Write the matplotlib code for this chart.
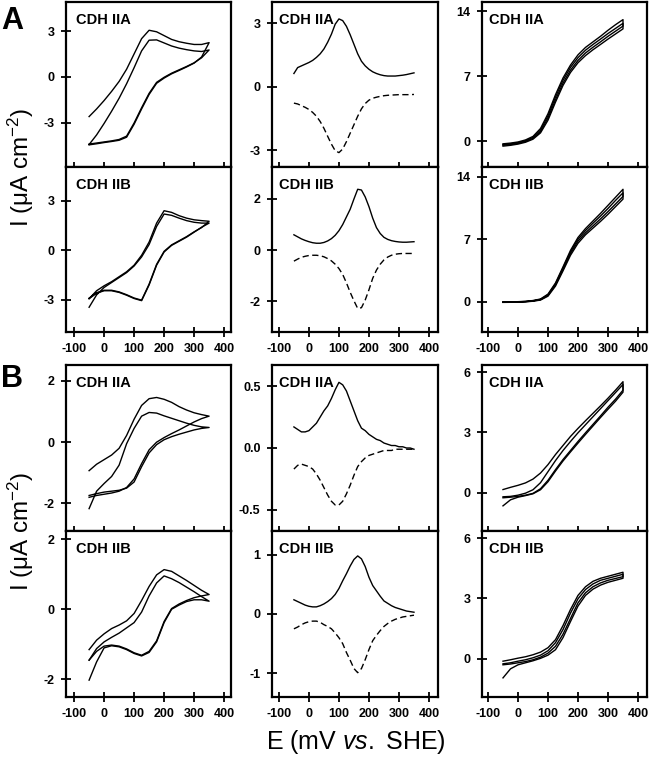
import matplotlib
matplotlib.use("Agg")
import matplotlib.pyplot as plt
from matplotlib.ticker import FormatStrFormatter

plt.rcParams['font.family'] = ['Liberation Sans', 'DejaVu Sans']
plt.rcParams['axes.unicode_minus'] = False
plt.rcParams['mathtext.fontset'] = 'custom'
plt.rcParams['mathtext.rm'] = 'Liberation Sans'
plt.rcParams['mathtext.it'] = 'Liberation Sans:italic'
plt.rcParams['mathtext.bf'] = 'Liberation Sans:bold'

# ---------------- data ----------------
E_CV = [-50, -25, 0, 25, 50, 75, 100, 125, 150, 175, 200, 225, 250, 275, 300, 325, 350]
E_DPV = [-50, -37.5, -25, -12.5, 0, 12.5, 25, 37.5, 50, 62.5, 75, 87.5, 100, 112.5,
         125, 137.5, 150, 162.5, 175, 187.5, 200, 212.5, 225, 237.5, 250, 262.5,
         275, 287.5, 300, 312.5, 325, 337.5, 350]
X_TICKS = [-100, 0, 100, 200, 300, 400]

# Panel A, CDH IIA, CV (anodic / cathodic branches, both in ascending E)
A_IIA_cv_an1 = [-2.6, -2.1, -1.55, -0.95, -0.3, 0.5, 1.5, 2.5, 3.05, 2.95, 2.7, 2.45, 2.3, 2.2, 2.12, 2.12, 2.24]
A_IIA_cv_ca1 = [-4.45, -4.38, -4.3, -4.23, -4.15, -3.95, -3.1, -2.1, -1.15, -0.42, -0.08, 0.2, 0.42, 0.65, 0.9, 1.3, 2.24]
A_IIA_cv_an2 = [-4.43, -3.8, -3.05, -2.25, -1.4, -0.45, 0.6, 1.7, 2.4, 2.42, 2.22, 2.02, 1.88, 1.78, 1.7, 1.66, 1.76]
A_IIA_cv_ca2 = [-4.4, -4.33, -4.26, -4.19, -4.1, -3.88, -3.02, -2.02, -1.08, -0.36, -0.03, 0.24, 0.46, 0.68, 0.92, 1.25, 1.76]

# Panel A, CDH IIB, CV
A_IIB_cv_an1 = [-3.45, -2.7, -2.25, -1.95, -1.65, -1.35, -0.95, -0.4, 0.35, 1.45, 2.2, 2.12, 1.95, 1.8, 1.7, 1.65, 1.65]
A_IIB_cv_ca1 = [-2.93, -2.6, -2.45, -2.45, -2.55, -2.72, -2.92, -3.05, -2.1, -0.9, -0.1, 0.3, 0.55, 0.8, 1.1, 1.4, 1.65]
A_IIB_cv_an2 = [-2.93, -2.45, -2.15, -1.9, -1.6, -1.3, -0.9, -0.3, 0.5, 1.65, 2.4, 2.3, 2.1, 1.95, 1.85, 1.8, 1.76]
A_IIB_cv_ca2 = [-2.9, -2.57, -2.42, -2.42, -2.52, -2.69, -2.89, -3.02, -2.05, -0.85, -0.06, 0.33, 0.58, 0.83, 1.12, 1.38, 1.76]

# Panel B, CDH IIA, CV
B_IIA_cv_an1 = [-0.93, -0.72, -0.57, -0.42, -0.2, 0.22, 0.75, 1.2, 1.42, 1.46, 1.4, 1.3, 1.16, 1.05, 0.96, 0.9, 0.85]
B_IIA_cv_ca1 = [-1.8, -1.74, -1.7, -1.66, -1.6, -1.48, -1.2, -0.7, -0.25, 0.0, 0.15, 0.28, 0.4, 0.53, 0.66, 0.77, 0.85]
B_IIA_cv_an2 = [-2.17, -1.6, -1.35, -1.12, -0.75, -0.05, 0.45, 0.85, 0.97, 0.95, 0.86, 0.78, 0.7, 0.62, 0.55, 0.5, 0.48]
B_IIA_cv_ca2 = [-1.74, -1.68, -1.63, -1.6, -1.57, -1.5, -1.3, -0.8, -0.35, -0.08, 0.08, 0.18, 0.26, 0.33, 0.4, 0.45, 0.48]

# Panel B, CDH IIB, CV
B_IIB_cv_an1 = [-1.15, -0.88, -0.7, -0.55, -0.45, -0.33, -0.12, 0.25, 0.65, 0.98, 1.13, 1.08, 0.95, 0.82, 0.68, 0.54, 0.42]
B_IIB_cv_ca1 = [-1.45, -1.2, -1.05, -1.02, -1.05, -1.13, -1.24, -1.31, -1.2, -0.9, -0.35, 0.02, 0.15, 0.25, 0.33, 0.38, 0.42]
B_IIB_cv_an2 = [-1.45, -1.12, -0.93, -0.8, -0.68, -0.53, -0.38, -0.08, 0.38, 0.75, 0.95, 0.87, 0.76, 0.63, 0.5, 0.36, 0.23]
B_IIB_cv_ca2 = [-2.02, -1.5, -1.1, -1.04, -1.07, -1.15, -1.26, -1.33, -1.23, -0.93, -0.38, 0.0, 0.12, 0.22, 0.27, 0.27, 0.23]

# Differential pulse voltammetry: oxidative (solid) / reductive (dashed)
A_IIA_dpv_ox = [0.62, 0.9, 0.98, 1.06, 1.14, 1.24, 1.38, 1.55, 1.78, 2.1, 2.48, 2.95, 3.2, 3.12, 2.85, 2.45,
                2.0, 1.55, 1.2, 0.98, 0.82, 0.7, 0.62, 0.56, 0.52, 0.5, 0.5, 0.5, 0.52, 0.54, 0.57, 0.61, 0.65]
A_IIA_dpv_red = [-0.78, -0.82, -0.9, -0.98, -1.08, -1.22, -1.4, -1.65, -1.97, -2.35, -2.72, -3.03, -3.12, -2.95, -2.6, -2.2,
                 -1.8, -1.4, -1.05, -0.8, -0.64, -0.55, -0.5, -0.46, -0.43, -0.41, -0.4, -0.39, -0.38, -0.38, -0.38, -0.38, -0.37]
A_IIB_dpv_ox = [0.6, 0.52, 0.44, 0.38, 0.33, 0.29, 0.27, 0.27, 0.3, 0.36, 0.45, 0.58, 0.76, 1.0, 1.3, 1.6,
                2.0, 2.38, 2.35, 2.08, 1.7, 1.25, 0.88, 0.65, 0.5, 0.42, 0.37, 0.34, 0.32, 0.31, 0.31, 0.32, 0.33]
A_IIB_dpv_red = [-0.43, -0.35, -0.28, -0.24, -0.21, -0.2, -0.2, -0.22, -0.26, -0.33, -0.42, -0.55, -0.72, -0.95, -1.28, -1.65,
                 -1.98, -2.28, -2.25, -1.95, -1.55, -1.1, -0.78, -0.55, -0.38, -0.27, -0.2, -0.16, -0.14, -0.13, -0.13, -0.13, -0.13]
B_IIA_dpv_ox = [0.17, 0.15, 0.13, 0.13, 0.14, 0.17, 0.2, 0.25, 0.3, 0.34, 0.4, 0.47, 0.53, 0.51, 0.46, 0.38,
                0.3, 0.22, 0.16, 0.14, 0.11, 0.09, 0.07, 0.06, 0.04, 0.03, 0.02, 0.02, 0.01, 0.01, 0.0, 0.0, -0.01]
B_IIA_dpv_red = [-0.17, -0.14, -0.13, -0.14, -0.15, -0.17, -0.21, -0.26, -0.32, -0.38, -0.43, -0.46, -0.46, -0.43, -0.37, -0.3,
                 -0.22, -0.15, -0.11, -0.08, -0.06, -0.05, -0.04, -0.03, -0.02, -0.02, -0.02, -0.01, -0.01, -0.01, -0.01, -0.01, -0.01]
B_IIB_dpv_ox = [0.24, 0.21, 0.18, 0.15, 0.13, 0.12, 0.12, 0.14, 0.17, 0.21, 0.26, 0.33, 0.43, 0.56, 0.68, 0.81,
                0.92, 0.98, 0.93, 0.8, 0.62, 0.48, 0.39, 0.3, 0.22, 0.18, 0.14, 0.11, 0.09, 0.07, 0.05, 0.04, 0.03]
B_IIB_dpv_red = [-0.25, -0.22, -0.18, -0.15, -0.13, -0.12, -0.12, -0.14, -0.18, -0.21, -0.25, -0.32, -0.4, -0.5, -0.65, -0.78,
                 -0.92, -0.99, -0.92, -0.77, -0.6, -0.45, -0.36, -0.28, -0.21, -0.16, -0.12, -0.09, -0.07, -0.05, -0.04, -0.03, -0.02]

# Catalytic CVs (substrate present)
A_IIA_cat_an1 = [-0.3, -0.22, -0.1, 0.12, 0.5, 1.35, 2.95, 5.0, 6.8, 8.2, 9.3, 10.1, 10.7, 11.3, 11.95, 12.55, 13.1]
A_IIA_cat_ca1 = [-0.45, -0.38, -0.25, -0.05, 0.3, 1.02, 2.48, 4.45, 6.25, 7.65, 8.7, 9.5, 10.12, 10.7, 11.3, 11.85, 12.4]
A_IIA_cat_an2 = [-0.38, -0.3, -0.18, 0.03, 0.4, 1.18, 2.72, 4.75, 6.55, 7.95, 9.0, 9.8, 10.42, 11.0, 11.6, 12.15, 12.7]
A_IIA_cat_ca2 = [-0.55, -0.46, -0.33, -0.13, 0.2, 0.88, 2.25, 4.2, 6.0, 7.4, 8.45, 9.22, 9.85, 10.42, 11.0, 11.55, 12.1]

A_IIB_cat_an1 = [-0.03, -0.02, 0.0, 0.04, 0.13, 0.3, 0.85, 2.1, 3.9, 5.75, 7.2, 8.2, 9.05, 9.9, 10.8, 11.7, 12.6]
A_IIB_cat_ca1 = [-0.06, -0.05, -0.03, 0.0, 0.08, 0.22, 0.7, 1.88, 3.62, 5.4, 6.78, 7.72, 8.5, 9.28, 10.1, 10.95, 11.8]
A_IIB_cat_an2 = [-0.05, -0.04, -0.02, 0.02, 0.1, 0.26, 0.78, 2.0, 3.78, 5.58, 7.0, 7.97, 8.8, 9.6, 10.45, 11.35, 12.2]
A_IIB_cat_ca2 = [-0.08, -0.07, -0.05, -0.02, 0.05, 0.18, 0.62, 1.75, 3.45, 5.2, 6.55, 7.5, 8.25, 9.0, 9.8, 10.65, 11.5]

B_IIA_cat_an1 = [0.16, 0.27, 0.37, 0.49, 0.68, 0.98, 1.4, 1.9, 2.35, 2.8, 3.2, 3.58, 3.95, 4.32, 4.7, 5.1, 5.52]
B_IIA_cat_ca1 = [-0.25, -0.22, -0.18, -0.12, -0.03, 0.2, 0.62, 1.15, 1.65, 2.1, 2.55, 2.98, 3.4, 3.82, 4.25, 4.65, 5.1]
B_IIA_cat_an2 = [-0.2, -0.18, -0.12, -0.02, 0.15, 0.5, 1.05, 1.6, 2.1, 2.55, 2.98, 3.38, 3.78, 4.18, 4.58, 4.98, 5.38]
B_IIA_cat_ca2 = [-0.65, -0.35, -0.22, -0.14, -0.05, 0.15, 0.55, 1.08, 1.58, 2.03, 2.47, 2.9, 3.32, 3.74, 4.15, 4.55, 5.0]

B_IIB_cat_an1 = [-0.12, -0.05, 0.03, 0.1, 0.2, 0.33, 0.55, 0.95, 1.65, 2.45, 3.15, 3.58, 3.85, 4.0, 4.1, 4.2, 4.3]
B_IIB_cat_ca1 = [-0.3, -0.26, -0.2, -0.14, -0.05, 0.08, 0.28, 0.62, 1.22, 2.0, 2.78, 3.28, 3.58, 3.77, 3.9, 3.99, 4.08]
B_IIB_cat_an2 = [-0.25, -0.2, -0.12, -0.05, 0.05, 0.18, 0.4, 0.8, 1.45, 2.27, 2.98, 3.44, 3.72, 3.9, 4.0, 4.1, 4.2]
B_IIB_cat_ca2 = [-0.95, -0.5, -0.3, -0.2, -0.1, 0.02, 0.18, 0.45, 1.05, 1.85, 2.62, 3.15, 3.46, 3.66, 3.8, 3.9, 4.0]

PANEL_LABELS = ['CDH IIA', 'CDH IIB', 'CDH IIA', 'CDH IIB']
GROUP_LETTERS = ['A', 'B']

# (row, col) -> y limits and ticks
YLIMS = {(0, 0): (-5.9, 4.9), (1, 0): (-4.95, 5.05), (2, 0): (-2.9, 2.52), (3, 0): (-2.5, 2.23),
         (0, 1): (-3.8, 4.0), (1, 1): (-3.2, 3.25), (2, 1): (-0.67, 0.67), (3, 1): (-1.4, 1.4),
         (0, 2): (-2.8, 15.0), (1, 2): (-3.4, 15.1), (2, 2): (-1.9, 6.35), (3, 2): (-1.9, 6.35)}
YTICKS = {(0, 0): [-3, 0, 3], (1, 0): [-3, 0, 3], (2, 0): [-2, 0, 2], (3, 0): [-2, 0, 2],
          (0, 1): [-3, 0, 3], (1, 1): [-2, 0, 2], (2, 1): [-0.5, 0.0, 0.5], (3, 1): [-1, 0, 1],
          (0, 2): [0, 7, 14], (1, 2): [0, 7, 14], (2, 2): [0, 3, 6], (3, 2): [0, 3, 6]}
XLIMS = [(-127, 423), (-123, 430), (-120, 430)]

CV_LOOPS = {0: [(A_IIA_cv_an1, A_IIA_cv_ca1), (A_IIA_cv_an2, A_IIA_cv_ca2)],
            1: [(A_IIB_cv_an1, A_IIB_cv_ca1), (A_IIB_cv_an2, A_IIB_cv_ca2)],
            2: [(B_IIA_cv_an1, B_IIA_cv_ca1), (B_IIA_cv_an2, B_IIA_cv_ca2)],
            3: [(B_IIB_cv_an1, B_IIB_cv_ca1), (B_IIB_cv_an2, B_IIB_cv_ca2)]}
DPV = {0: (A_IIA_dpv_ox, A_IIA_dpv_red), 1: (A_IIB_dpv_ox, A_IIB_dpv_red),
       2: (B_IIA_dpv_ox, B_IIA_dpv_red), 3: (B_IIB_dpv_ox, B_IIB_dpv_red)}
CAT_LOOPS = {0: [(A_IIA_cat_an1, A_IIA_cat_ca1), (A_IIA_cat_an2, A_IIA_cat_ca2)],
             1: [(A_IIB_cat_an1, A_IIB_cat_ca1), (A_IIB_cat_an2, A_IIB_cat_ca2)],
             2: [(B_IIA_cat_an1, B_IIA_cat_ca1), (B_IIA_cat_an2, B_IIA_cat_ca2)],
             3: [(B_IIB_cat_an1, B_IIB_cat_ca1), (B_IIB_cat_an2, B_IIB_cat_ca2)]}

# ---------------- layout ----------------
W, H = 650, 759
fig = plt.figure(figsize=(W / 100, H / 100), dpi=100)
col_x = [66, 272, 482]
col_w = [165, 166, 165]
row_top = [2, 167, 365, 531]
row_h = [165, 165, 166, 166]
LW = 1.0


def make_ax(r, c):
    left = col_x[c] / W
    bottom = 1 - (row_top[r] + row_h[r]) / H
    return fig.add_axes([left, bottom, col_w[c] / W, row_h[r] / H])


for r in range(4):
    for c in range(3):
        ax = make_ax(r, c)
        if c == 0:
            for an, ca in CV_LOOPS[r]:
                ax.plot(E_CV + E_CV[::-1], an + ca[::-1], color='black', lw=LW)
        elif c == 1:
            ox, red = DPV[r]
            ax.plot(E_DPV, ox, color='black', lw=LW)
            ax.plot(E_DPV, red, color='black', lw=LW, linestyle=(0, (4.5, 2.5)))
        else:
            for an, ca in CAT_LOOPS[r]:
                ax.plot(E_CV + E_CV[::-1], an + ca[::-1], color='black', lw=LW)

        ax.set_xlim(*XLIMS[c])
        ax.set_ylim(*YLIMS[(r, c)])
        ax.set_xticks(X_TICKS)
        ax.set_yticks(YTICKS[(r, c)])
        if (r, c) == (2, 1):
            ax.yaxis.set_major_formatter(FormatStrFormatter('%.1f'))
        ax.tick_params(direction='inout', length=6.5, width=1.3, labelsize=9, pad=5,
                       top=False, right=False)
        if r in (0, 2):
            ax.tick_params(labelbottom=False)
        for lbl in ax.get_xticklabels() + ax.get_yticklabels():
            lbl.set_fontweight('bold')
        for sp in ax.spines.values():
            sp.set_linewidth(1.6)
        xoff = 0.058 if c == 0 else 0.042
        ax.text(xoff, 0.935, PANEL_LABELS[r], transform=ax.transAxes, fontsize=10.5,
                fontweight='bold', ha='left', va='top')

# group letters
fig.text(1 / W, 1 - 6 / H, GROUP_LETTERS[0], fontsize=22, fontweight='bold', ha='left', va='top')
fig.text(1 / W, 1 - 364 / H, GROUP_LETTERS[1], fontsize=22, fontweight='bold', ha='left', va='top')

# axis labels
ylab = 'I (\u03bcA cm$^{\\mathregular{-2}}$)'
fig.text(21 / W, 1 - 167 / H, ylab, rotation=90, ha='center', va='center', fontsize=17.5)
fig.text(21 / W, 1 - 531 / H, ylab, rotation=90, ha='center', va='center', fontsize=17.5)
fig.text(356 / W, 1 - 742 / H, 'E (mV $\\mathit{vs.}$ SHE)', ha='center', va='center', fontsize=18)

fig.savefig('out.png', dpi=100)
